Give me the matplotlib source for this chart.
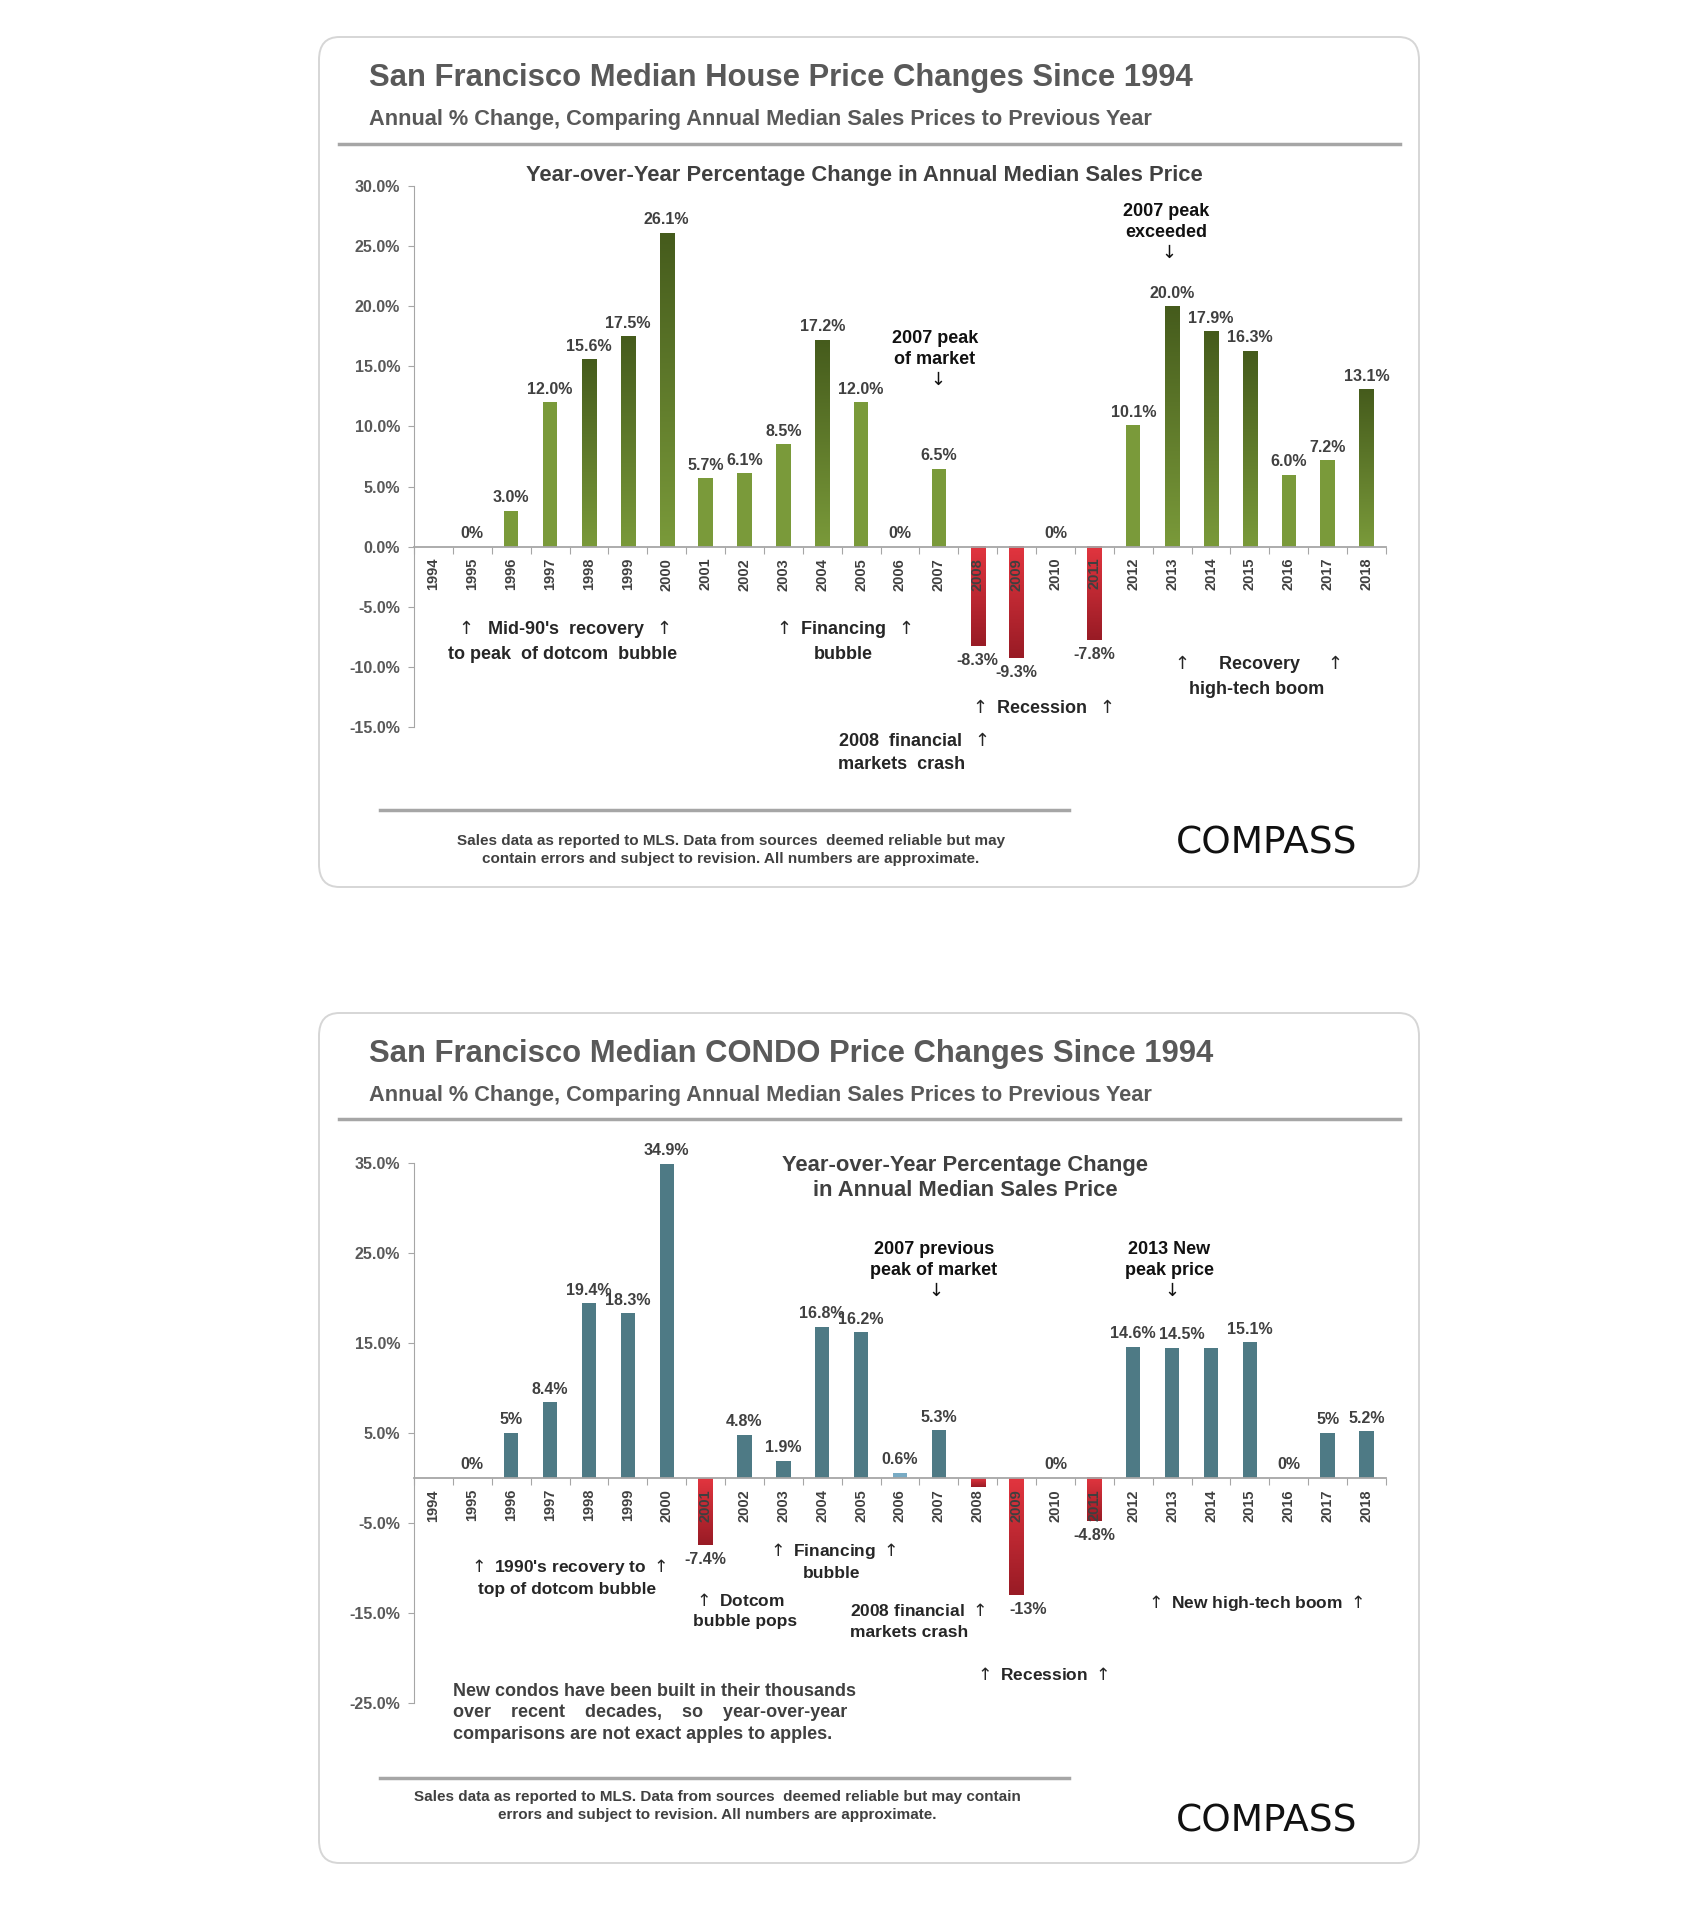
"""
Recreate the Compass San Francisco house / condo YoY price-change charts.
Output: out.png (1700 x 1909)
"""

import numpy as np
import matplotlib
matplotlib.use('Agg')
import matplotlib.pyplot as plt
from matplotlib.colors import LinearSegmentedColormap
from matplotlib.patches import FancyBboxPatch
from matplotlib.lines import Line2D

# ── Data ──────────────────────────────────────────────────────────────────────
YEARS = ['1994', '1995', '1996', '1997', '1998', '1999', '2000', '2001', '2002',
         '2003', '2004', '2005', '2006', '2007', '2008', '2009', '2010', '2011',
         '2012', '2013', '2014', '2015', '2016', '2017', '2018']

HOUSE_PCT = [0.0, 0.0, 3.0, 12.0, 15.6, 17.5, 26.1, 5.7, 6.1, 8.5, 17.2, 12.0,
             0.0, 6.5, -8.3, -9.3, 0.0, -7.8, 10.1, 20.0, 17.9, 16.3, 6.0, 7.2, 13.1]
HOUSE_LABELS = ['', '0%', '3.0%', '12.0%', '15.6%', '17.5%', '26.1%', '5.7%',
                '6.1%', '8.5%', '17.2%', '12.0%', '0%', '6.5%', '-8.3%', '-9.3%',
                '0%', '-7.8%', '10.1%', '20.0%', '17.9%', '16.3%', '6.0%', '7.2%',
                '13.1%']

CONDO_PCT = [0.0, 0.0, 5.0, 8.4, 19.4, 18.3, 34.9, -7.4, 4.8, 1.9, 16.8, 16.2,
             0.6, 5.3, -1.0, -13.0, 0.0, -4.8, 14.6, 14.5, 14.5, 15.1, 0.0, 5.0, 5.2]
CONDO_LABELS = ['', '0%', '5%', '8.4%', '19.4%', '18.3%', '34.9%', '-7.4%',
                '4.8%', '1.9%', '16.8%', '16.2%', '0.6%', '5.3%', '', '-13%',
                '0%', '-4.8%', '14.6%', '14.5%', '', '15.1%', '0%', '5%', '5.2%']

HOUSE_YTICKS = [-15, -10, -5, 0, 5, 10, 15, 20, 25, 30]
CONDO_YTICKS = [-25, -15, -5, 5, 15, 25, 35]

# ── Style ─────────────────────────────────────────────────────────────────────
W, H = 1700, 1909
NARROW = ['Liberation Sans Narrow', 'Liberation Sans', 'DejaVu Sans']
ARIAL = ['Liberation Sans', 'DejaVu Sans']
UP, DOWN = r'$\uparrow$', r'$\downarrow$'

GREEN_LIGHT = '#7a9a3a'
GREEN_DARK = '#455b1c'
RED_BASE = '#e2353f'
RED_TIP = '#981b25'
TEAL = '#4e7a85'
TEAL_LIGHT = '#78abc4'
GRAY_LINE = '#a6a6a6'

plt.rcParams.update({
    'font.family': ARIAL,
    'mathtext.fontset': 'dejavusans',
    'figure.dpi': 100,
    'savefig.dpi': 100,
})


def fx(px):
    return px / W


def fy(py):
    return 1 - py / H


def frame(fig, top, bottom, title, sub_y, sep_y, foot_y, foot_text, foot_ty, logo_y):
    box = FancyBboxPatch((fx(319), fy(bottom)), fx(1419) - fx(319), fy(top) - fy(bottom),
                         boxstyle='round,pad=0,rounding_size=0.012',
                         transform=fig.transFigure, fc='white', ec='#d6d6d6', lw=1.4,
                         zorder=-5)
    fig.add_artist(box)
    fig.text(fx(369), fy(top + 41), title, family=NARROW, fontsize=22.3,
             fontweight='bold', color='#595959', va='center')
    fig.text(fx(369), fy(sub_y),
             'Annual % Change, Comparing Annual Median Sales Prices to Previous Year',
             family=NARROW, fontsize=15.7, fontweight='bold', color='#595959', va='center')
    fig.add_artist(Line2D([fx(339), fx(1400)], [fy(sep_y), fy(sep_y)],
                          transform=fig.transFigure, color=GRAY_LINE, lw=2.5))
    fig.add_artist(Line2D([fx(380), fx(1069)], [fy(foot_y), fy(foot_y)],
                          transform=fig.transFigure, color=GRAY_LINE, lw=2.5))
    fig.text(fx(foot_text[0]), fy(foot_ty), foot_text[1], family=NARROW, fontsize=11,
             fontweight='bold', color='#404040', ha='center', va='center',
             linespacing=1.45)
    fig.text(fx(1267), fy(logo_y), 'COMPASS', family=['DejaVu Sans'], fontsize=27,
             color='#111111', ha='center', va='center')


def gradient_bar(ax, rect, v, base, tip):
    cmap = LinearSegmentedColormap.from_list('bar', [base, tip])
    grad = np.linspace(0, 1, 256).reshape(-1, 1)
    x0, w = rect.get_x(), rect.get_width()
    ax.imshow(grad, cmap=cmap, extent=[x0, x0 + w, 0, v], origin='lower',
              aspect='auto', interpolation='bilinear', zorder=2.5)


def style_axes(ax, ylim, yticks):
    ax.set_xlim(-0.5, len(YEARS) - 0.5)
    ax.set_ylim(*ylim)
    ax.patch.set_alpha(0)
    for s in ('top', 'right'):
        ax.spines[s].set_visible(False)
    ax.spines['left'].set_color(GRAY_LINE)
    ax.spines['bottom'].set_color(GRAY_LINE)
    ax.spines['bottom'].set_position(('data', 0))
    ax.spines['bottom'].set_linewidth(1.3)
    ax.set_xticks(np.arange(-0.5, len(YEARS), 1))
    ax.set_xticklabels([])
    ax.tick_params(axis='x', direction='out', length=5, color=GRAY_LINE)
    ax.set_yticks(yticks)
    ax.set_yticklabels([f'{t:.1f}%' for t in yticks], family=NARROW, fontsize=11.5,
                       fontweight='bold', color='#595959')
    ax.tick_params(axis='y', direction='out', length=4, color=GRAY_LINE, pad=6)
    for i, yr in enumerate(YEARS):
        ax.annotate(yr, (i, 0), xytext=(0, -8), textcoords='offset points',
                    rotation=90, ha='center', va='top', fontsize=10.5,
                    fontweight='bold', color='#404040', zorder=5)


def value_labels(ax, values, labels, nudge=None):
    nudge = nudge or {}
    for i, (v, lab) in enumerate(zip(values, labels)):
        if not lab:
            continue
        dx = nudge.get(i, 0)
        if v >= 0:
            ax.annotate(lab, (i + dx, v), xytext=(0, 4), textcoords='offset points',
                        ha='center', va='bottom', fontsize=11.5, fontweight='bold',
                        color='#404040', zorder=6)
        else:
            ax.annotate(lab, (i + dx, v), xytext=(0, -5), textcoords='offset points',
                        ha='center', va='top', fontsize=11.5, fontweight='bold',
                        color='#404040', zorder=6)


def note(ax, x, y, s, ha='center', size=13, **kw):
    ax.text(x, y, s, family=NARROW, fontsize=size, fontweight='bold', color='#262626',
            ha=ha, va='center', linespacing=1.45, clip_on=False, zorder=6, **kw)


def peak_note(ax, x, y, s):
    ax.text(x, y, s, fontsize=13, fontweight='bold', color='#111111',
            ha='center', va='center', linespacing=1.3, clip_on=False, zorder=6)


# ══════════════════════════════════════════════════════════════════════════════
# CHART 1: Houses
# ══════════════════════════════════════════════════════════════════════════════

def plot_houses(fig):
    frame(fig, 37, 887, 'San Francisco Median House Price Changes Since 1994',
          119, 144, 810, (731, 'Sales data as reported to MLS. Data from sources  deemed reliable but may\n'
                               'contain errors and subject to revision. All numbers are approximate.'),
          850, 844)
    fig.text(fx(864), fy(175), 'Year-over-Year Percentage Change in Annual Median Sales Price',
             family=NARROW, fontsize=15.8, fontweight='bold', color='#404040',
             ha='center', va='center')

    ax = fig.add_axes([fx(414), fy(727), fx(1386) - fx(414), (727 - 186) / H])
    x = np.arange(len(YEARS))
    bars = ax.bar(x, HOUSE_PCT, width=0.37, color=GREEN_LIGHT, zorder=2)
    for rect, v in zip(bars, HOUSE_PCT):
        if v > 13:
            gradient_bar(ax, rect, v, GREEN_LIGHT, GREEN_DARK)
        elif v < 0:
            gradient_bar(ax, rect, v, RED_BASE, RED_TIP)
    style_axes(ax, (-15, 30), HOUSE_YTICKS)
    value_labels(ax, HOUSE_PCT, HOUSE_LABELS)

    peak_note(ax, 12.9, 15.6, f'2007 peak\nof market\n{DOWN}')
    peak_note(ax, 18.85, 26.1, f'2007 peak\nexceeded\n{DOWN}')
    note(ax, 3.33, -7.8, f"{UP}  Mid-90's  recovery  {UP}\nto peak  of dotcom  bubble")
    note(ax, 10.53, -7.8, f'{UP} Financing  {UP}\nbubble')
    note(ax, 15.63, -13.4, f'{UP} Recession  {UP}')
    note(ax, 10.4, -17.1, f'2008  financial  {UP}\nmarkets  crash', ha='left')
    note(ax, 21.16, -10.7, f'{UP}     Recovery     {UP}\nhigh-tech boom')


# ══════════════════════════════════════════════════════════════════════════════
# CHART 2: Condos
# ══════════════════════════════════════════════════════════════════════════════

def plot_condos(fig):
    frame(fig, 1013, 1863, 'San Francisco Median CONDO Price Changes Since 1994',
          1096, 1119, 1778, (717, 'Sales data as reported to MLS. Data from sources  deemed reliable but may contain\n'
                                'errors and subject to revision. All numbers are approximate.'),
          1806, 1821)
    fig.text(fx(965), fy(1178), 'Year-over-Year Percentage Change\nin Annual Median Sales Price',
             family=NARROW, fontsize=15.8, fontweight='bold', color='#404040',
             ha='center', va='center', linespacing=1.25)

    ax = fig.add_axes([fx(414), fy(1703), fx(1386) - fx(414), (1703 - 1163) / H])
    x = np.arange(len(YEARS))
    colors = [TEAL_LIGHT if 0 < v < 1 else TEAL for v in CONDO_PCT]
    bars = ax.bar(x, CONDO_PCT, width=0.37, color=colors, zorder=2)
    for rect, v in zip(bars, CONDO_PCT):
        if v < 0:
            gradient_bar(ax, rect, v, RED_BASE, RED_TIP)
    style_axes(ax, (-25, 35), CONDO_YTICKS)
    value_labels(ax, CONDO_PCT, CONDO_LABELS, nudge={15: 0.3, 19: 0.25})

    peak_note(ax, 12.87, 23.1, f'2007 previous\npeak of market\n{DOWN}')
    peak_note(ax, 18.92, 23.1, f'2013 New\npeak price\n{DOWN}')
    note(ax, 3.43, -11.0, f"{UP} 1990's recovery to {UP}\ntop of dotcom bubble", size=12.5)
    note(ax, 6.68, -14.7, f'{UP} Dotcom\nbubble pops', ha='left', size=12.5)
    note(ax, 10.25, -9.2, f'{UP} Financing {UP}\nbubble', size=12.5)
    note(ax, 10.71, -15.9, f'2008 financial {UP}\nmarkets crash', ha='left', size=12.5)
    note(ax, 21.1, -13.9, f'{UP} New high-tech boom {UP}', size=12.5)
    note(ax, 15.63, -21.8, f'{UP} Recession {UP}', size=12.5)
    ax.text(0.5, -26.1, 'New condos have been built in their thousands\n'
                        'over    recent    decades,    so    year-over-year\n'
                        'comparisons are not exact apples to apples.',
            family=NARROW, fontsize=13, fontweight='bold', color='#404040',
            ha='left', va='center', linespacing=1.35, clip_on=False)


def main():
    fig = plt.figure(figsize=(W / 100, H / 100))
    plot_houses(fig)
    plot_condos(fig)
    fig.savefig('out.png', dpi=100, facecolor='white')
    plt.close(fig)


if __name__ == '__main__':
    main()
